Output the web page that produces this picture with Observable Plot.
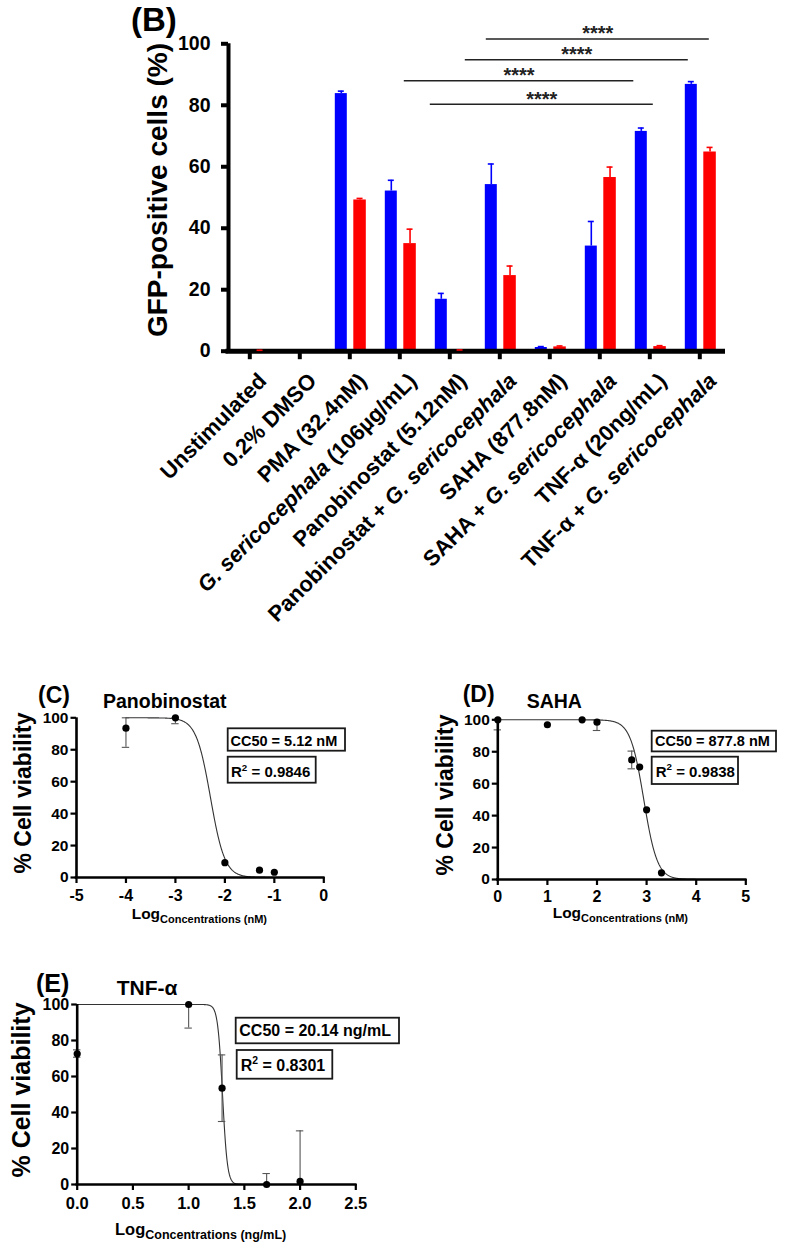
<!DOCTYPE html>
<html>
<head>
<meta charset="utf-8">
<script src="https://cdn.jsdelivr.net/npm/d3@7"></script>
<script src="https://cdn.jsdelivr.net/npm/@observablehq/plot@0.6"></script>
<style>
  body { margin: 0; background: #fff; }
  #fig { position: relative; width: 785px; height: 1251px; overflow: hidden; background: #fff; }
  #fig svg { position: absolute; overflow: visible; }
</style>
</head>
<body>
<div id="fig"></div>
<script>
const FONT = '"Liberation Sans", Arial, Helvetica, sans-serif';

// ---------- (B) GFP-positive cells per treatment ----------
const treatments = [
  "Unstimulated",
  "0.2% DMSO",
  "PMA (32.4nM)",
  "G. sericocephala (106µg/mL)",
  "Panobinostat (5.12nM)",
  "Panobinostat + G. sericocephala",
  "SAHA (877.8nM)",
  "SAHA + G. sericocephala",
  "TNF-α (20ng/mL)",
  "TNF-α + G. sericocephala"
];
const blueMean = [0, 0, 83.8, 52.1, 16.9, 54.2, 1.2, 34.2, 71.5, 86.8];
const blueErr  = [0, 0, 0.8, 3.5, 1.9, 6.7, 0.3, 8.0, 1.1, 0.9];
const redMean  = [0.1, 0, 49.2, 35.0, 0.2, 24.6, 1.4, 56.5, 1.5, 64.8];
const redErr   = [0.2, 0, 0.5, 4.7, 0.2, 3.1, 0.3, 3.4, 0.3, 1.5];

// significance brackets: ends in treatment-index units, height in % units
const sigStart = [4.73, 4.31, 3.09, 3.61];
const sigEnd   = [9.19, 8.77, 7.68, 8.07];
const sigLevel = [101.6, 94.8, 88.0, 80.3];
const sigText  = ["****", "****", "****", "****"];

const yTicksB = [0, 20, 40, 60, 80, 100];

// ---------- (C) Panobinostat viability ----------
const panoLogConc   = [-4, -3, -2, -1.3, -1];
const panoViability = [93.5, 100, 9.3, 4.6, 3.3];
const panoErrLow    = [81.5, 96.3, null, null, null];
const panoErrHigh   = [100, 100, null, null, null];
const panoCC50 = 5.12;      // nM
const panoR2 = "0.9846";
const panoHill = 3.0;

// ---------- (D) SAHA viability ----------
const sahaLogConc   = [0, 1, 1.7, 2, 2.7, 2.86, 3, 3.3];
const sahaViability = [100, 96.9, 100, 98.5, 74.9, 70.4, 43.6, 4.2];
const sahaErrLow    = [93.7, null, null, 93.3, 69.3, null, null, null];
const sahaErrHigh   = [100, null, null, 100, 80.4, null, null, null];
const sahaCC50 = 877.8;     // nM
const sahaR2 = "0.9838";
const sahaHill = 3.2;

// ---------- (E) TNF-α viability ----------
const tnfLogConc   = [0, 1, 1.3, 1.7, 2];
const tnfViability = [72.6, 100, 53.5, 0, 1.7];
const tnfErrLow    = [70.7, 86.9, 35.0, 0, 0];
const tnfErrHigh   = [74.8, 100, 72.0, 6.1, 29.8];
const tnfCC50 = 20.14;      // ng/mL
const tnfR2 = "0.8301";
const tnfHill = 20;

const fig = document.getElementById("fig");
function place(svg, left, top) {
  svg.style.left = left + "px";
  svg.style.top = top + "px";
  fig.appendChild(svg);
}

// ================= Panel B =================
const groups = treatments.map((name, i) => ({i, name}));
const BAR_EDGES = {blue: [-0.29, -0.05], red: [0.08, 0.33]};   // bar edges around each group tick
const bars = groups.flatMap(({i}) => ["blue", "red"].map(series => {
  const [a, b] = BAR_EDGES[series];
  const value = series === "blue" ? blueMean[i] : redMean[i];
  const err = series === "blue" ? blueErr[i] : redErr[i];
  return {i, series, lo: i + a, hi: i + b, mid: i + (a + b) / 2, value, err};
}));
const errBars = bars.filter(d => d.err > 0);
const sigs = sigStart.map((s, k) => ({s, e: sigEnd[k], level: sigLevel[k], text: sigText[k]}));

const plotB = Plot.plot({
  width: 785,
  height: 660,
  marginLeft: 228,
  marginRight: 62.5,
  marginTop: 43.3,
  marginBottom: 660 - 350.7,
  x: {domain: [-0.426, 9.464], axis: null},
  y: {domain: [0, 100], axis: null},
  color: {domain: ["blue", "red"], range: ["#0000ff", "#ff0000"]},
  style: {fontFamily: FONT, background: "transparent", overflow: "visible", color: "black"},
  marks: [
    Plot.rect(bars, {x1: "lo", x2: "hi", y1: 0, y2: "value", fill: "series"}),
    // axis lines and group ticks
    Plot.ruleY([0], {strokeWidth: 5, strokeLinecap: "square"}),
    Plot.ruleX([-0.426], {y1: 0, y2: 100, strokeWidth: 4}),
    Plot.ruleX(groups, {x: "i", y1: 0, y2: 0, insetBottom: -8.5, strokeWidth: 4}),
    Plot.axisY(yTicksB, {tickSize: 7, tickPadding: 11, strokeWidth: 4, fontSize: 19.5, fontWeight: "bold", label: null, tickFormat: d => String(d)}),
    // one-sided error bars
    Plot.ruleX(errBars, {x: "mid", y1: "value", y2: d => d.value + d.err, stroke: "series", strokeWidth: 1.6}),
    Plot.ruleY(errBars, {x1: "mid", x2: "mid", y: d => d.value + d.err, insetLeft: -3, insetRight: -3, stroke: "series", strokeWidth: 1.6}),
    // comparisons
    Plot.ruleY(sigs, {x1: "s", x2: "e", y: "level", stroke: "#222", strokeWidth: 1.5}),
    Plot.text(sigs, {x: d => (d.s + d.e) / 2, y: "level", text: "text", dy: -5, fontSize: 20, fontWeight: "bold", fill: "#222"}),
    // treatment labels
    Plot.text(groups, {x: "i", y: 0, text: "name", rotate: -45, textAnchor: "end", lineAnchor: "top", dx: 7, dy: 20, fontSize: 22, fontWeight: "bold", fill: "black"})
  ]
});

// species name in italics
const SPECIES = "G. sericocephala";
d3.select(plotB).selectAll("text").each(function () {
  const s = this.textContent;
  const k = s.indexOf(SPECIES);
  if (k < 0 || this.querySelector("tspan")) return;
  const parts = [s.slice(0, k), SPECIES, s.slice(k + SPECIES.length)];
  this.textContent = "";
  parts.forEach((p, j) => {
    if (!p) return;
    const t = document.createElementNS("http://www.w3.org/2000/svg", "tspan");
    t.textContent = p;
    if (j === 1) t.setAttribute("font-style", "italic");
    this.appendChild(t);
  });
});
place(plotB, 0, 0);

// ================= Dose–response panels =================
function dosePanel(p) {
  const pts = p.conc.map((x, k) => ({x, y: p.viab[k], lo: p.low[k], hi: p.high[k]}));
  const bars = pts.filter(d => d.lo != null);
  const n = 400, step = (p.fitTo - p.fitFrom) / n;
  // four-parameter logistic fit (top 100, bottom 0)
  const fit = d3.range(n + 1).map(k => {
    const x = p.fitFrom + k * step;
    return {x, y: 100 / (1 + Math.pow(10, (x - p.logCC50) * p.hill))};
  });
  return Plot.plot({
    width: p.width,
    height: p.height,
    marginLeft: p.mL, marginRight: p.mR, marginTop: p.mT, marginBottom: p.mB,
    x: {domain: p.xDomain},
    y: {domain: [0, 100]},
    style: {fontFamily: FONT, background: "transparent", overflow: "visible", color: "black"},
    marks: [
      Plot.line(fit, {x: "x", y: "y", stroke: "#333", strokeWidth: 1.1}),
      Plot.ruleX(bars, {x: "x", y1: "lo", y2: "hi", stroke: "#555", strokeWidth: 1.1}),
      Plot.ruleY(bars, {x1: "x", x2: "x", y: "lo", insetLeft: -3.7, insetRight: -3.7, stroke: "#555", strokeWidth: 1.1}),
      Plot.ruleY(bars, {x1: "x", x2: "x", y: "hi", insetLeft: -3.7, insetRight: -3.7, stroke: "#555", strokeWidth: 1.1}),
      Plot.ruleX([p.xDomain[0]], {y1: 0, y2: 100, strokeWidth: 2.6}),
      Plot.ruleY([0], {strokeWidth: 2.6, strokeLinecap: "square"}),
      Plot.axisY([0, 20, 40, 60, 80, 100], {tickSize: 5.5, tickPadding: 2.5, strokeWidth: 2.2, fontSize: p.yFont, fontWeight: "bold", label: null, tickFormat: d => String(d)}),
      Plot.axisX(p.xTicks, {tickSize: 6, tickPadding: p.xPad, strokeWidth: 2.2, fontSize: p.xFont, fontWeight: "bold", label: null, tickFormat: p.xFormat}),
      Plot.dot(pts, {x: "x", y: "y", r: 3.6, fill: "black"})
    ]
  });
}

// panobinostat axis is three decades below the nM label, so the midpoint sits at log10(CC50/1000)
place(dosePanel({
  conc: panoLogConc, viab: panoViability, low: panoErrLow, high: panoErrHigh,
  logCC50: Math.log10(panoCC50 / 1000), hill: panoHill, fitFrom: -4, fitTo: -1,
  xDomain: [-5, 0], xTicks: [-5, -4, -3, -2, -1, 0], xFormat: d => String(d),
  width: 350, height: 250, mL: 76, mR: 26.7, mT: 37.3, mB: 53,
  xFont: 16, yFont: 15.5, xPad: 6
}), 0, 680);

place(dosePanel({
  conc: sahaLogConc, viab: sahaViability, low: sahaErrLow, high: sahaErrHigh,
  logCC50: Math.log10(sahaCC50), hill: sahaHill, fitFrom: 0, fitTo: 4,
  xDomain: [0, 5], xTicks: [0, 1, 2, 3, 4, 5], xFormat: d => String(d),
  width: 365, height: 250, mL: 77.3, mR: 39.7, mT: 39.3, mB: 51,
  xFont: 16, yFont: 15.5, xPad: 5
}), 420, 680);

place(dosePanel({
  conc: tnfLogConc, viab: tnfViability, low: tnfErrLow, high: tnfErrHigh,
  logCC50: Math.log10(tnfCC50), hill: tnfHill, fitFrom: 0, fitTo: 2,
  xDomain: [0, 2.5], xTicks: [0, 0.5, 1, 1.5, 2, 2.5], xFormat: d3.format(".1f"),
  width: 400, height: 260, mL: 76.7, mR: 44.7, mT: 44, mB: 36,
  xFont: 16.5, yFont: 16, xPad: 7
}), 0, 960);

// ================= Titles, axis titles and fit boxes =================
const ov = d3.select(fig).append("svg")
  .attr("width", 785).attr("height", 1251)
  .style("left", "0px").style("top", "0px")
  .attr("font-family", FONT).attr("font-weight", "bold").attr("fill", "black");

function text(x, y, s, fs, anchor = "start") {
  return ov.append("text").attr("x", x).attr("y", y).attr("font-size", fs).attr("text-anchor", anchor).text(s);
}
function vtext(x, y, s, fs) {
  return ov.append("text").attr("transform", `translate(${x},${y}) rotate(-90)`)
    .attr("font-size", fs).attr("text-anchor", "middle").text(s);
}
function logTitle(x, y, unit, fs, subFs) {
  const t = ov.append("text").attr("x", x).attr("y", y);
  t.append("tspan").attr("font-size", fs).text("Log");
  t.append("tspan").attr("font-size", subFs).attr("dy", subFs * 0.32).text(`Concentrations (${unit})`);
}
function box(x, y, w, h) {
  ov.append("rect").attr("x", x).attr("y", y).attr("width", w).attr("height", h)
    .attr("fill", "none").attr("stroke", "#1a1a1a").attr("stroke-width", 1.8);
}
function r2Text(x, y, r2, fs) {
  const t = ov.append("text").attr("x", x).attr("y", y).attr("font-size", fs);
  t.append("tspan").text("R");
  t.append("tspan").attr("font-size", fs * 0.65).attr("dy", -fs * 0.42).text("2");
  t.append("tspan").attr("dy", fs * 0.42).text(` = ${r2}`);
}

// (B)
text(131, 31, "(B)", 33);
vtext(167, 190, "GFP-positive cells (%)", 28);

// (C)
text(38, 703, "(C)", 23);
text(103, 707.7, "Panobinostat", 19.5);
vtext(31, 793, "% Cell viability", 23);
box(227.7, 728.3, 117.3, 22.4);
text(230.5, 746, `CC50 = ${panoCC50} nM`, 14.5);
box(227.7, 756.7, 88, 26);
r2Text(231, 777.3, panoR2, 15);
logTitle(131.7, 919, "nM", 15.5, 11);

// (D)
text(462.7, 701.7, "(D)", 23);
text(526.7, 708, "SAHA", 19.5);
vtext(453, 795, "% Cell viability", 23);
box(651.7, 730.7, 124.3, 20.7);
text(655, 746, `CC50 = ${sahaCC50} nM`, 14.5);
box(651.7, 756.7, 86.3, 27.3);
r2Text(655.7, 776.7, sahaR2, 15);
logTitle(552.7, 918, "nM", 15.5, 11);

// (E)
text(36, 991.7, "(E)", 25);
text(116.7, 995, "TNF-α", 21);
vtext(29.5, 1090, "% Cell viability", 25);
box(235.7, 1017.7, 163.3, 25.6);
text(239.3, 1036, `CC50 = ${tnfCC50} ng/mL`, 16);
box(236.7, 1050, 95.6, 28.7);
r2Text(240.7, 1070.7, tnfR2, 16);
logTitle(115, 1235, "ng/mL", 16.5, 12.5);
</script>
</body>
</html>
